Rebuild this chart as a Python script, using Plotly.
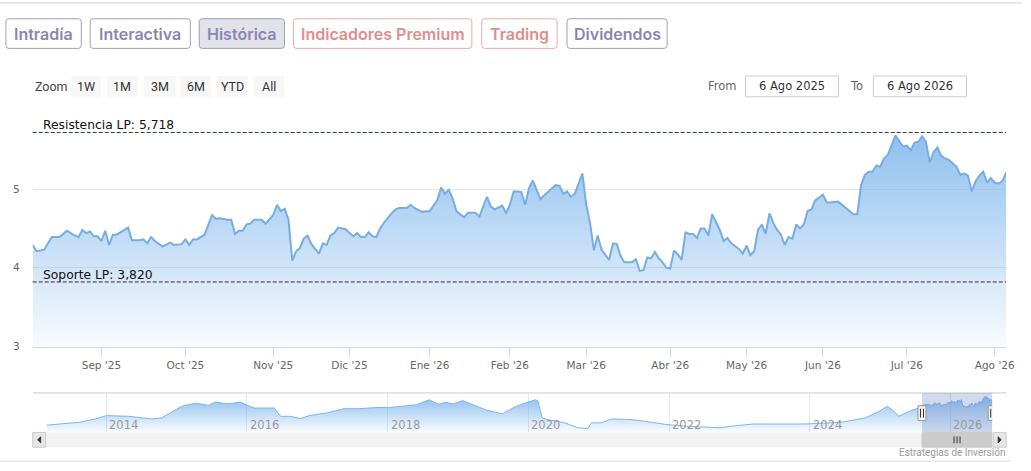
import pandas as pd
import plotly.graph_objects as go

# precio diario, ultimo año
dates = [
    "2025-08-06", "2025-08-07", "2025-08-11", "2025-08-13", "2025-08-15", "2025-08-19", "2025-08-21", "2025-08-22",
    "2025-08-25", "2025-08-26", "2025-08-27", "2025-08-28", "2025-08-29",
    "2025-09-01", "2025-09-02", "2025-09-03", "2025-09-04", "2025-09-05", "2025-09-10", "2025-09-11", "2025-09-15",
    "2025-09-16", "2025-09-17", "2025-09-18", "2025-09-19", "2025-09-23", "2025-09-25", "2025-09-26", "2025-09-30",
    "2025-10-01", "2025-10-02", "2025-10-03", "2025-10-06", "2025-10-08", "2025-10-10", "2025-10-13", "2025-10-14",
    "2025-10-16", "2025-10-17", "2025-10-20", "2025-10-21", "2025-10-22", "2025-10-23", "2025-10-24", "2025-10-27",
    "2025-10-29", "2025-10-30",
    "2025-11-03", "2025-11-04", "2025-11-05", "2025-11-06", "2025-11-07", "2025-11-10", "2025-11-11", "2025-11-12",
    "2025-11-13", "2025-11-14", "2025-11-17", "2025-11-18", "2025-11-19", "2025-11-20", "2025-11-21", "2025-11-24",
    "2025-11-25", "2025-11-26", "2025-11-28",
    "2025-12-01", "2025-12-02", "2025-12-03", "2025-12-04", "2025-12-05", "2025-12-08", "2025-12-09", "2025-12-10",
    "2025-12-11", "2025-12-12", "2025-12-16", "2025-12-17", "2025-12-18", "2025-12-22", "2025-12-23", "2025-12-24",
    "2025-12-30",
    "2026-01-02", "2026-01-06", "2026-01-07", "2026-01-08", "2026-01-09", "2026-01-12", "2026-01-13", "2026-01-15",
    "2026-01-16", "2026-01-20", "2026-01-21", "2026-01-23", "2026-01-26", "2026-01-27", "2026-01-29", "2026-01-30",
    "2026-02-02", "2026-02-03", "2026-02-04", "2026-02-05", "2026-02-06", "2026-02-09", "2026-02-10", "2026-02-12",
    "2026-02-13", "2026-02-18", "2026-02-19", "2026-02-20", "2026-02-23", "2026-02-24", "2026-02-25", "2026-02-27",
    "2026-03-02", "2026-03-03", "2026-03-04", "2026-03-05", "2026-03-06", "2026-03-10", "2026-03-11", "2026-03-12",
    "2026-03-13", "2026-03-16", "2026-03-18", "2026-03-19", "2026-03-20", "2026-03-23", "2026-03-24", "2026-03-25",
    "2026-03-26", "2026-03-27", "2026-03-30", "2026-03-31",
    "2026-04-01", "2026-04-02", "2026-04-07", "2026-04-08", "2026-04-09", "2026-04-10", "2026-04-13", "2026-04-14",
    "2026-04-15", "2026-04-16", "2026-04-17", "2026-04-20", "2026-04-21", "2026-04-22", "2026-04-23", "2026-04-24",
    "2026-04-27", "2026-04-28", "2026-04-29", "2026-04-30",
    "2026-05-04", "2026-05-05", "2026-05-06", "2026-05-07", "2026-05-08", "2026-05-11", "2026-05-12", "2026-05-13",
    "2026-05-14", "2026-05-15", "2026-05-18", "2026-05-19", "2026-05-20", "2026-05-21", "2026-05-22", "2026-05-25",
    "2026-05-26", "2026-05-27", "2026-05-28", "2026-05-29",
    "2026-06-01", "2026-06-02", "2026-06-03", "2026-06-05", "2026-06-09", "2026-06-10", "2026-06-11", "2026-06-12",
    "2026-06-15", "2026-06-16", "2026-06-17", "2026-06-18", "2026-06-19", "2026-06-22", "2026-06-23", "2026-06-24",
    "2026-06-25", "2026-06-26", "2026-06-29", "2026-06-30",
    "2026-07-01", "2026-07-02", "2026-07-03", "2026-07-06", "2026-07-07", "2026-07-08", "2026-07-09", "2026-07-10",
    "2026-07-13", "2026-07-14", "2026-07-15", "2026-07-16", "2026-07-20", "2026-07-21", "2026-07-22", "2026-07-23",
    "2026-07-24", "2026-07-27", "2026-07-28", "2026-07-29", "2026-07-30", "2026-07-31",
    "2026-08-03", "2026-08-04", "2026-08-05", "2026-08-06",
]
prices = [
    4.29, 4.21, 4.23, 4.39, 4.39, 4.47, 4.41, 4.39,
    4.48, 4.44, 4.46, 4.40, 4.40,
    4.34, 4.47, 4.29, 4.42, 4.42, 4.51, 4.35, 4.35,
    4.36, 4.31, 4.39, 4.34, 4.27, 4.32, 4.29, 4.30,
    4.36, 4.29, 4.36, 4.36, 4.42, 4.67, 4.62, 4.63,
    4.61, 4.61, 4.43, 4.47, 4.47, 4.55, 4.56, 4.61,
    4.61, 4.56,
    4.67, 4.80, 4.72, 4.75, 4.61, 4.09, 4.21, 4.25,
    4.37, 4.41, 4.30, 4.24, 4.18, 4.31, 4.29, 4.41,
    4.44, 4.51, 4.49,
    4.44, 4.40, 4.44, 4.39, 4.39, 4.45, 4.40, 4.39,
    4.50, 4.57, 4.69, 4.74, 4.76, 4.76, 4.80, 4.76,
    4.71,
    4.72, 4.86, 5.02, 4.94, 4.99, 4.88, 4.72, 4.64,
    4.70, 4.70, 4.65, 4.90, 4.78, 4.74, 4.79, 4.69,
    4.80, 4.97, 4.97, 4.96, 4.80, 5.01, 5.11, 4.87,
    4.92, 5.05, 5.04, 4.94, 4.97, 4.90, 4.94, 5.20,
    4.80, 4.57, 4.22, 4.41, 4.23, 4.10, 4.31, 4.30,
    4.15, 4.07, 4.07, 4.11, 3.96, 3.97, 4.13, 4.12,
    4.20, 4.12, 4.07, 4.00,
    3.99, 4.22, 4.17, 4.10, 4.45, 4.43, 4.43, 4.38,
    4.50, 4.50, 4.41, 4.68, 4.59, 4.48, 4.34, 4.38,
    4.31, 4.28, 4.24, 4.18,
    4.28, 4.16, 4.21, 4.48, 4.55, 4.43, 4.69, 4.57,
    4.48, 4.42, 4.29, 4.39, 4.37, 4.55, 4.50, 4.55,
    4.72, 4.74, 4.86, 4.89,
    4.93, 4.83, 4.83, 4.84, 4.76, 4.71, 4.68, 4.68,
    5.05, 5.18, 5.22, 5.22, 5.30, 5.28, 5.39, 5.43,
    5.56, 5.68, 5.61, 5.54,
    5.55, 5.49, 5.59, 5.60, 5.67, 5.60, 5.34, 5.47,
    5.53, 5.42, 5.39, 5.37, 5.28, 5.18, 5.20, 5.17,
    4.97, 5.10, 5.17, 5.22, 5.08, 5.14,
    5.08, 5.07, 5.10, 5.21,
]

# historico largo que solo sale en el navegador
hist_dates = [
    "2013-02-25", "2013-05-20", "2013-08-15", "2013-11-06", "2014-01-02", "2014-04-28", "2014-06-18", "2014-08-26",
    "2014-10-16", "2014-11-21", "2015-01-26", "2015-04-09", "2015-06-15", "2015-07-20", "2015-09-23", "2015-12-01",
    "2015-12-28", "2016-02-10", "2016-05-23", "2016-06-24", "2016-08-15", "2016-10-04", "2016-11-24", "2017-02-20",
    "2017-05-19", "2017-08-08", "2017-11-07", "2018-01-11", "2018-03-26", "2018-05-30", "2018-08-03", "2018-09-24",
    "2018-10-30", "2018-12-05", "2019-01-25", "2019-03-18", "2019-05-23", "2019-08-19", "2019-10-28", "2019-12-16",
    "2020-02-06", "2020-02-20", "2020-03-13", "2020-04-10", "2020-07-08", "2020-09-14", "2020-11-06", "2020-11-24",
    "2021-01-15", "2021-03-08", "2021-06-18", "2021-08-25", "2021-10-15", "2021-12-20", "2022-04-01", "2022-06-28",
    "2022-09-23", "2022-12-16", "2023-03-14", "2023-07-31", "2023-12-08", "2024-04-26", "2024-07-01", "2024-10-15",
    "2024-12-27", "2025-02-06", "2025-03-04", "2025-04-09", "2025-05-30", "2025-07-18",
]
hist_prices = [
    1.27, 1.48, 1.72, 2.23, 2.74, 2.63, 2.48, 2.23,
    2.40, 3.00, 4.15, 4.66, 4.30, 4.81, 4.55, 4.81,
    4.40, 3.90, 3.90, 2.63, 2.63, 2.28, 2.78, 3.15,
    3.80, 3.80, 3.99, 3.99, 4.15, 4.40, 5.16, 4.50,
    4.81, 4.50, 5.05, 4.40, 3.65, 3.00, 4.15, 4.66,
    5.16, 5.00, 2.39, 2.13, 1.63, 0.87, 0.77, 1.63,
    1.63, 2.23, 2.13, 1.87, 1.63, 1.37, 1.11, 0.96,
    0.87, 1.20, 1.45, 1.45, 1.45, 1.63, 1.80, 2.39,
    3.39, 4.15, 3.65, 2.63, 3.39, 3.90,
]

month_ticks = ["2025-09-01", "2025-10-01", "2025-11-03", "2025-12-01", "2026-01-02", "2026-02-02",
               "2026-03-02", "2026-04-01", "2026-05-04", "2026-06-01", "2026-07-01", "2026-08-03"]
month_labels = ["Sep '25", "Oct '25", "Nov '25", "Dic '25", "Ene '26", "Feb '26",
                "Mar '26", "Abr '26", "May '26", "Jun '26", "Jul '26", "Ago '26"]
holidays = ["2025-12-25", "2025-12-26", "2026-01-01", "2026-04-03", "2026-04-06", "2026-05-01"]
year_ticks = ["2014-01-01", "2016-01-01", "2018-01-01", "2020-01-01", "2022-01-01", "2024-01-01", "2026-01-01"]
year_labels = ["2014", "2016", "2018", "2020", "2022", "2024", "2026"]

resistencia = 5.718
soporte = 3.820

W, H = 1031, 471


def fx(p):
    return p / W


def fy(p):
    return 1 - p / H


def round_box(x0, y0, x1, y1, r=3):
    X0, X1, Y0, Y1 = fx(x0), fx(x1), fy(y0), fy(y1)
    rx, ry = r / W, r / H
    return (f"M{X0+rx},{Y0} L{X1-rx},{Y0} Q{X1},{Y0} {X1},{Y0-ry} L{X1},{Y1+ry} Q{X1},{Y1} {X1-rx},{Y1} "
            f"L{X0+rx},{Y1} Q{X0},{Y1} {X0},{Y1+ry} L{X0},{Y0-ry} Q{X0},{Y0} {X0+rx},{Y0} Z")


blue = "#7cb5ec"
fig = go.Figure()

fig.add_trace(go.Scatter(
    x=dates, y=prices, mode="lines", line=dict(color="#77ade2", width=2),
    fill="tozeroy",
    fillgradient=dict(type="vertical", start=3, stop=6,
                      colorscale=[[0, "rgba(124,181,236,0.04)"], [1, "rgba(124,181,236,0.95)"]]),
    xaxis="x", yaxis="y", hoverinfo="skip", showlegend=False))

fig.add_trace(go.Scatter(
    x=hist_dates + dates, y=hist_prices + prices, mode="lines", line=dict(color=blue, width=1),
    fill="tozeroy",
    fillgradient=dict(type="vertical", start=0.16, stop=6.22,
                      colorscale=[[0, "rgba(124,181,236,0.03)"], [1, "rgba(124,181,236,0.95)"]]),
    xaxis="x2", yaxis="y2", hoverinfo="skip", showlegend=False))

axis_font = dict(family="DejaVu Sans", size=10.5, color="#666666")

fig.update_layout(
    width=W, height=H, margin=dict(l=0, r=0, t=0, b=0),
    paper_bgcolor="white", plot_bgcolor="white", showlegend=False,
    xaxis=dict(domain=[fx(33), fx(1015)], type="date", range=[dates[0], dates[-1]],
               rangebreaks=[dict(bounds=["sat", "mon"]), dict(values=holidays)],
               tickmode="array", tickvals=month_ticks, ticktext=month_labels,
               ticks="outside", ticklen=9, tickcolor="#ccd6eb", showline=True, linecolor="#ccd6eb",
               showgrid=False, zeroline=False, tickfont=axis_font, anchor="y"),
    yaxis=dict(domain=[fy(351), fy(111.7)], range=[3, 6], tickvals=[3, 4, 5, 6],
               ticktext=["3", "4", "5", ""], gridcolor="#e6e6e6", zeroline=False, showline=False,
               tickfont=axis_font, ticklabelstandoff=12, anchor="x"),
    xaxis2=dict(domain=[fx(47), fx(1001)], type="date", range=[hist_dates[0], dates[-1]],
                tickmode="array", tickvals=year_ticks, showticklabels=False, ticks="",
                showgrid=True, gridcolor="#e6e6e6", zeroline=False, showline=False, anchor="y2"),
    yaxis2=dict(domain=[fy(438), fy(398)], range=[0.16, 6.22], visible=False, anchor="x2"),
)

shapes = []
annotations = []

# años del navegador, dentro de la zona, a la derecha de cada linea
for t, lab in zip(year_ticks, year_labels):
    annotations.append(dict(text=lab, xref="x2", yref="paper", x=t, y=fy(430.5), xanchor="left",
                            yanchor="middle", xshift=1, showarrow=False,
                            font=dict(family="DejaVu Sans", size=11.5, color="#999999")))

# lineas de soporte / resistencia
for val, col, txt in [(resistencia, "#2e4a2e", "Resistencia LP: 5,718"), (soporte, "#4f2036", "Soporte LP: 3,820")]:
    shapes.append(dict(type="line", xref="x domain", yref="y", x0=0, x1=1, y0=val, y1=val,
                       line=dict(color=col, width=1, dash="4px,2px")))
    annotations.append(dict(text=txt, xref="paper", yref="y", x=fx(41), y=val, xanchor="left",
                            yanchor="bottom", yshift=-2, showarrow=False,
                            font=dict(family="DejaVu Sans", size=12.3, color="#111111")))

# separadores de la pagina
shapes.append(dict(type="line", xref="paper", yref="paper", x0=0, x1=1, y0=fy(3), y1=fy(3),
                   line=dict(color="#d4d4d4", width=1)))
shapes.append(dict(type="line", xref="paper", yref="paper", x0=0, x1=fx(1020), y0=fy(467), y1=fy(467),
                   line=dict(color="#d9d9d9", width=1)))

# pestañas de arriba
purple, salmon = "#8a86b2", "#df8d8d"
tabs = [("Intradía", 6, 82, purple, "white"), ("Interactiva", 91, 192, purple, "white"),
        ("Histórica", 201, 287, purple, "#e2e2ea"), ("Indicadores Premium", 296, 476, salmon, "white"),
        ("Trading", 486, 562, salmon, "white"), ("Dividendos", 572, 673, purple, "white")]
for label, x0, x1, col, bg in tabs:
    border = "#a19dc2" if col == purple else "#e7aaaa"
    shapes.append(dict(type="path", path=round_box(x0, 19, x1, 49), xref="paper", yref="paper",
                       fillcolor=bg, line=dict(color=border, width=1)))
    annotations.append(dict(text=label, xref="paper", yref="paper", x=fx((x0 + x1) / 2), y=fy(34),
                            xanchor="center", yanchor="middle", showarrow=False,
                            font=dict(family="Inter", size=16, color=col, weight=600)))

# selector de rango
narrow = "Roboto"
annotations.append(dict(text="Zoom", xref="paper", yref="paper", x=fx(33), y=fy(88), xanchor="left",
                        yanchor="middle", showarrow=False, font=dict(family=narrow, size=12.5, color="#444444")))
for label, x0, x1 in [("1W", 72, 102), ("1M", 108, 139), ("3M", 145, 177), ("6M", 182, 213),
                      ("YTD", 219, 250), ("All", 256, 287)]:
    shapes.append(dict(type="rect", xref="paper", yref="paper", x0=fx(x0), x1=fx(x1), y0=fy(98), y1=fy(77),
                       fillcolor="#f7f7f7", line=dict(width=0)))
    annotations.append(dict(text=label, xref="paper", yref="paper", x=fx((x0 + x1) / 2), y=fy(88),
                            xanchor="center", yanchor="middle", showarrow=False,
                            font=dict(family=narrow, size=12.5, color="#333333")))

for label, cx in [("From", 729), ("To", 864)]:
    annotations.append(dict(text=label, xref="paper", yref="paper", x=fx(cx), y=fy(87.5), xanchor="center",
                            yanchor="middle", showarrow=False,
                            font=dict(family="DejaVu Sans", size=11.5, color="#666666")))
for label, x0, x1 in [("6 Ago 2025", 752, 846), ("6 Ago 2026", 881, 975)]:
    shapes.append(dict(type="rect", xref="paper", yref="paper", x0=fx(x0), x1=fx(x1), y0=fy(98), y1=fy(77),
                       fillcolor="white", line=dict(color="#cccccc", width=1)))
    annotations.append(dict(text=label, xref="paper", yref="paper", x=fx((x0 + x1) / 2), y=fy(87.5),
                            xanchor="center", yanchor="middle", showarrow=False,
                            font=dict(family="DejaVu Sans", size=11.5, color="#333333")))

# navegador: borde, zona seleccionada, tiradores
shapes.append(dict(type="line", xref="paper", yref="paper", x0=fx(33), x1=fx(1015), y0=fy(398), y1=fy(398),
                   line=dict(color="#cccccc", width=1)))
sel0, sel1 = dates[0], dates[-1]
mid = (pd.Timestamp(sel0) + (pd.Timestamp(sel1) - pd.Timestamp(sel0)) / 2).strftime("%Y-%m-%d")
shapes.append(dict(type="rect", xref="x2", yref="paper", x0=sel0, x1=sel1, y0=fy(438), y1=fy(398),
                   fillcolor="rgba(102,133,194,0.3)", line=dict(width=0)))

# barra de desplazamiento
shapes.append(dict(type="rect", xref="paper", yref="paper", x0=fx(33), x1=fx(1015), y0=fy(453), y1=fy(438),
                   fillcolor="#f2f2f2", line=dict(width=0)))
shapes.append(dict(type="rect", xref="x2", yref="paper", x0=sel0, x1=sel1, y0=fy(453), y1=fy(438),
                   fillcolor="#cccccc", line=dict(color="#cccccc", width=1)))
for dx in (-3, 0, 3):
    shapes.append(dict(type="line", xref="x2", yref="paper", xsizemode="pixel", xanchor=mid,
                       x0=dx, x1=dx, y0=fy(449), y1=fy(442), line=dict(color="#333333", width=1)))
for x0, x1, tri in [(33, 46, "left"), (1002, 1015, "right")]:
    shapes.append(dict(type="rect", xref="paper", yref="paper", x0=fx(x0), x1=fx(x1), y0=fy(453), y1=fy(438),
                       fillcolor="#e6e6e6", line=dict(color="#cccccc", width=1)))
    c = (x0 + x1) / 2
    if tri == "left":
        p = f"M{fx(c+1.5)},{fy(442.5)} L{fx(c-1.5)},{fy(445.5)} L{fx(c+1.5)},{fy(448.5)} Z"
    else:
        p = f"M{fx(c-1.5)},{fy(442.5)} L{fx(c+1.5)},{fy(445.5)} L{fx(c-1.5)},{fy(448.5)} Z"
    shapes.append(dict(type="path", path=p, xref="paper", yref="paper", fillcolor="#333333",
                       line=dict(color="#333333", width=1)))

for anchor in (sel0, sel1):
    shapes.append(dict(type="rect", xref="x2", yref="paper", xsizemode="pixel", xanchor=anchor,
                       x0=-4, x1=4, y0=fy(426), y1=fy(411), fillcolor="#f2f2f2",
                       line=dict(color="#999999", width=1)))
    for dx in (-1.5, 1.5):
        shapes.append(dict(type="line", xref="x2", yref="paper", xsizemode="pixel", xanchor=anchor,
                           x0=dx, x1=dx, y0=fy(423), y1=fy(414), line=dict(color="#333333", width=1)))

annotations.append(dict(text="Estrategias de Inversión", xref="paper", yref="paper", x=fx(1016), y=fy(458),
                        xanchor="right", yanchor="middle", showarrow=False,
                        font=dict(family=narrow, size=10, color="#999999")))

fig.update_layout(shapes=shapes, annotations=annotations)

# sin el margen por defecto del body, para que el grafico empiece en 0,0
fig.write_html("out.html", config={"displayModeBar": False},
               post_script="document.body.style.margin='0px';document.body.style.overflow='hidden';")
